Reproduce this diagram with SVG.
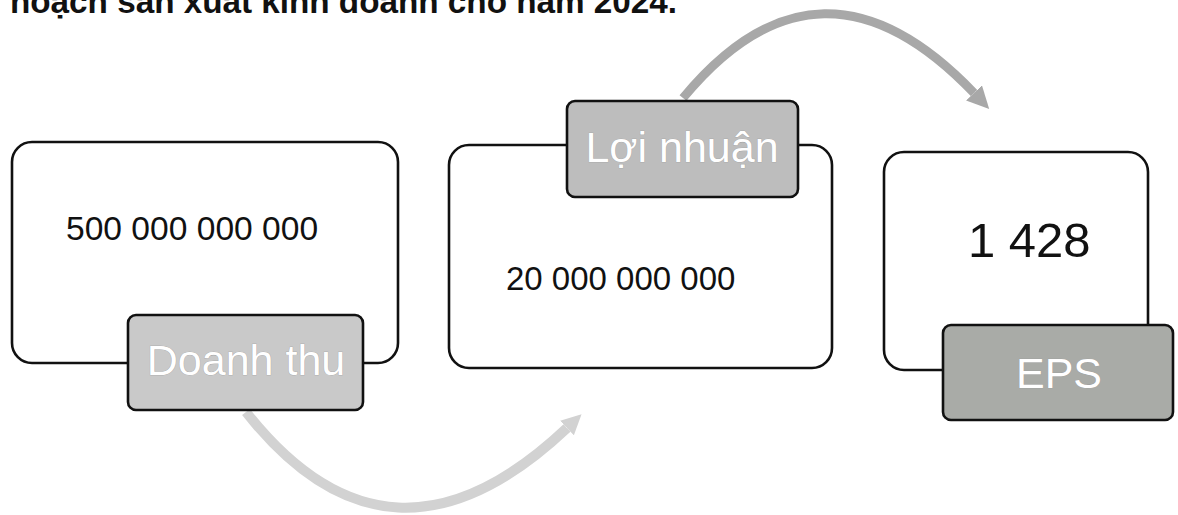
<svg xmlns="http://www.w3.org/2000/svg" width="1178" height="515" viewBox="0 0 1178 515">
<style>
.box{fill:#fff;stroke:#111;stroke-width:2.6}
.lbl{stroke:#111;stroke-width:2.6}
.val{font-family:"Liberation Sans",Arial,sans-serif;fill:#111}
.lt{font-family:"Liberation Sans",Arial,sans-serif;font-size:43px;fill:#fff;text-anchor:middle;stroke:#9a9a9a;stroke-width:0.6;paint-order:stroke}
.title{font-family:"Liberation Sans",Arial,sans-serif;font-weight:bold;font-size:33px;fill:#111}
</style>
<defs>
<marker id="headL" markerUnits="userSpaceOnUse" viewBox="0 0 20 20" markerWidth="20" markerHeight="20" refX="0" refY="10" orient="auto">
<path d="M0,0 L20,10 L0,20 z" fill="#d2d2d2"/>
</marker>
<marker id="headD" markerUnits="userSpaceOnUse" viewBox="0 0 20 20" markerWidth="22" markerHeight="22" refX="0" refY="10" orient="auto">
<path d="M0,0 L20,10 L0,20 z" fill="#a8a8a8"/>
</marker>
</defs>
<rect width="1178" height="515" fill="#fff"/>
<text class="title" x="10" y="13" textLength="667" lengthAdjust="spacingAndGlyphs">hoạch sản xuất kinh doanh cho năm 2024.</text>
<g id="connectors" fill="none">
<path d="M 246 412 Q 390 595 567 428" stroke="#d2d2d2" stroke-width="10" marker-end="url(#headL)"/>
<path d="M 683 98 Q 820 -68 974 93" stroke="#a8a8a8" stroke-width="9" marker-end="url(#headD)"/>
</g>
<g id="node-doanhthu">
<rect class="box" x="12" y="142" width="386" height="221" rx="20"/>
<text class="val" x="66" y="240" font-size="33.6">500 000 000 000</text>
<rect class="lbl" x="128" y="315" width="235" height="95" rx="8" fill="#c9c9c9"/>
<text class="lt" x="246" y="375">Doanh thu</text>
</g>
<g id="node-loinhuan">
<rect class="box" x="449" y="145" width="383" height="223" rx="20"/>
<text class="val" x="506" y="290" font-size="33">20 000 000 000</text>
<rect class="lbl" x="567" y="101" width="231" height="96" rx="8" fill="#bdbdbd"/>
<text class="lt" x="682" y="162">Lợi nhuận</text>
</g>
<g id="node-eps">
<rect class="box" x="884" y="152" width="264" height="218" rx="20"/>
<text class="val" x="968" y="257" font-size="49">1 428</text>
<rect class="lbl" x="943" y="325" width="230" height="95" rx="8" fill="#a9aba7"/>
<text class="lt" x="1059" y="388">EPS</text>
</g>
</svg>
